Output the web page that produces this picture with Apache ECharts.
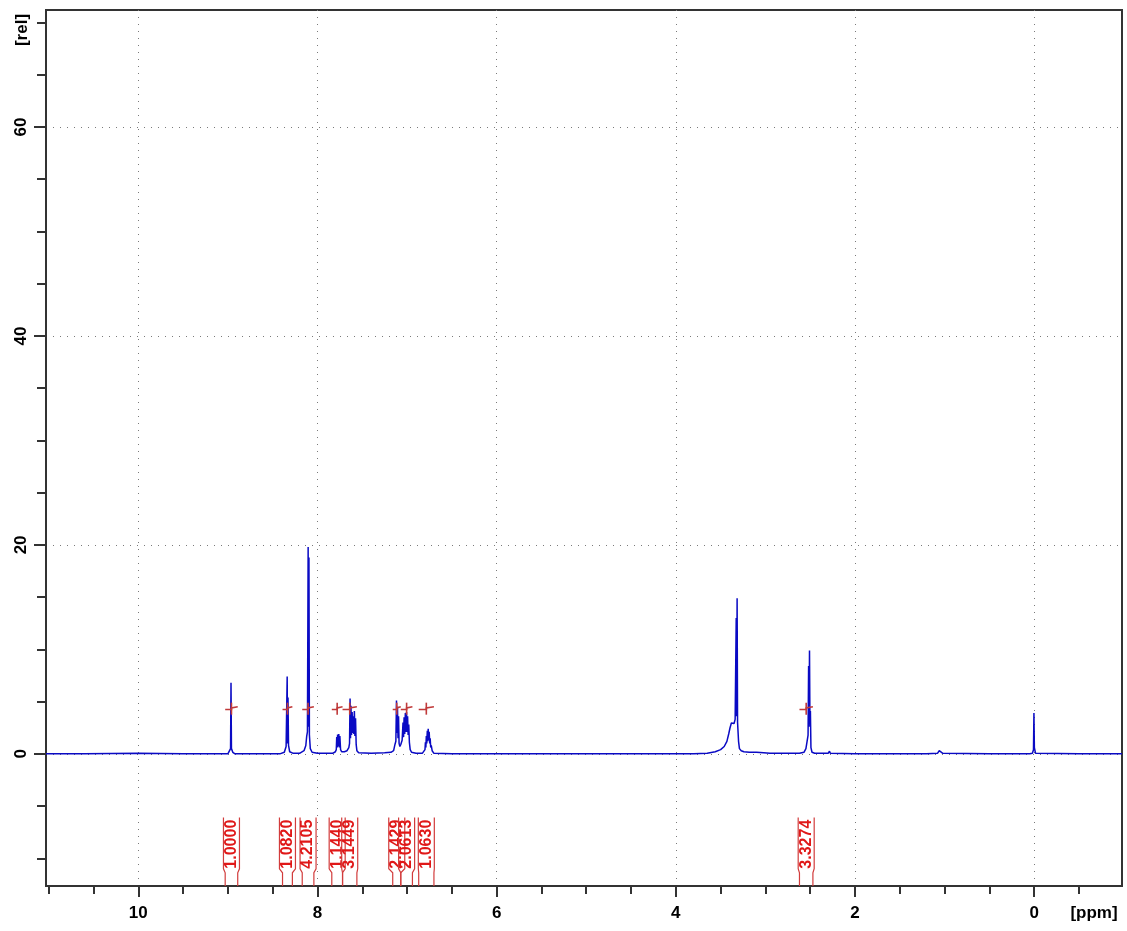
<!DOCTYPE html>
<html>
<head>
<meta charset="utf-8">
<script src="https://cdn.jsdelivr.net/npm/echarts@6.0.0/dist/echarts.min.js"></script>
<style>
html,body{margin:0;padding:0;background:#fff;}
#chart{width:1127px;height:931px;}
</style>
</head>
<body>
<div id="chart"></div>
<script>
// ---------- data (ppm, relative intensity) ----------
const baselineHigh = [[11.03,0],[10.6,0],[10.0,0.05],[9.5,0],[9.1,0]];
const sig896 = [[9.00,0],[8.98,0.15],[8.97,0.5],[8.965,6.8],[8.96,0.5],[8.945,0.15],[8.92,0]];
const sig833 = [[8.42,0],[8.37,0.15],[8.35,0.7],[8.338,7.4],[8.334,1.0],[8.329,5.4],[8.323,0.8],[8.31,0.2],[8.27,0.05]];
const sig810 = [[8.20,0.05],[8.15,0.3],[8.13,0.8],[8.12,1.7],[8.112,2.1],[8.104,19.8],[8.100,2.6],[8.095,18.8],[8.09,1.8],[8.08,0.5],[8.06,0.15],[8.00,0.05],[7.90,0.05],[7.83,0.05]];
const sig776 = [[7.80,0.2],[7.79,0.4],[7.785,1.6],[7.78,0.6],[7.775,1.85],[7.768,0.7],[7.762,1.9],[7.756,0.6],[7.75,1.7],[7.742,0.4],[7.73,0.2],[7.70,0.2]];
const sig760 = [[7.67,0.3],[7.65,0.6],[7.642,1.0],[7.636,5.3],[7.631,1.5],[7.626,4.6],[7.62,1.8],[7.613,4.0],[7.607,2.0],[7.600,3.6],[7.594,1.9],[7.588,4.1],[7.582,1.7],[7.575,3.4],[7.568,0.9],[7.56,0.3],[7.54,0.1],[7.40,0.05],[7.25,0.1],[7.18,0.15]];
const sig711 = [[7.15,0.3],[7.135,0.9],[7.125,1.2],[7.118,5.1],[7.113,2.0],[7.107,4.5],[7.101,1.5],[7.095,3.6],[7.089,1.0],[7.08,0.7]];
const sig699 = [[7.07,0.9],[7.055,1.3],[7.045,3.0],[7.039,1.6],[7.033,3.5],[7.026,1.9],[7.019,3.9],[7.013,2.1],[7.006,4.0],[7.0,2.1],[6.994,3.6],[6.988,1.8],[6.981,2.8],[6.974,1.1],[6.965,0.4],[6.95,0.15],[6.90,0.05],[6.83,0.05]];
const sig676 = [[6.81,0.1],[6.80,0.4],[6.795,1.1],[6.79,0.6],[6.785,1.7],[6.78,1.0],[6.774,2.2],[6.769,1.2],[6.764,2.4],[6.758,1.3],[6.753,2.1],[6.747,1.0],[6.742,1.5],[6.736,0.6],[6.73,0.8],[6.72,0.3],[6.70,0.05]];
const baselineMid = [[6.5,0],[5.5,0],[4.5,0],[3.8,0],[3.65,0.05]];
const sig333 = [[3.62,0.1],[3.56,0.2],[3.50,0.4],[3.46,0.7],[3.43,1.2],[3.41,1.9],[3.395,2.5],[3.38,2.95],[3.37,3.0],[3.36,2.8],[3.35,2.9],[3.338,3.3],[3.326,13.0],[3.321,3.6],[3.316,14.9],[3.311,3.0],[3.30,1.2],[3.29,0.5],[3.27,0.3],[3.24,0.2],[3.18,0.15],[3.10,0.15],[3.02,0.1],[2.95,0.05]];
const sig250 = [[2.62,0.05],[2.57,0.15],[2.548,0.5],[2.535,1.2],[2.524,1.8],[2.518,8.4],[2.513,2.6],[2.508,9.9],[2.503,3.0],[2.498,4.1],[2.492,0.6],[2.48,0.15],[2.45,0.05],[2.30,0.05],[2.285,0.25],[2.275,0.05]];
const sig105 = [[2.0,0],[1.2,0],[1.08,0.05],[1.06,0.3],[1.05,0.15],[1.04,0.3],[1.02,0.05],[0.5,0],[0.05,0]];
const sig000 = [[0.02,0.05],[0.008,0.4],[0.003,3.9],[-0.002,0.6],[-0.015,0.05],[-0.5,0],[-0.98,0]];

const integralValues = ['1.0000','1.0820','4.2105','1.1440','3.1449','2.1429','2.0613','1.0630','3.3274'];
const integralFrom   = [9.03, 8.39, 8.17, 7.84, 7.72, 7.16, 7.07, 6.87, 2.62];
const integralTo     = [8.89, 8.28, 8.04, 7.72, 7.56, 7.07, 6.94, 6.70, 2.47];
const integralLevel  = 4.3;   // height of the integral traces

const xTicks = [10, 8, 6, 4, 2, 0];
const yTicks = [0, 20, 40, 60];
const xMinorTicks = [11, 10.5, 9.5, 9, 8.5, 7.5, 7, 6.5, 5.5, 5, 4.5, 3.5, 3, 2.5, 1.5, 1, 0.5, -0.5];
const yMinorTicks = [-10, -5, 5, 10, 15, 25, 30, 35, 45, 50, 55, 65, 70];

const spectrum = [].concat(baselineHigh, sig896, sig833, sig810, sig776, sig760,
  sig711, sig699, sig676, baselineMid, sig333, sig250, sig105, sig000);

const X_MIN = -0.98, X_MAX = 11.03, Y_MIN = -12.65, Y_MAX = 71.2;

const chart = echarts.init(document.getElementById('chart'), null, {renderer: 'canvas'});

const integralData = integralValues.map((v, i) => [integralFrom[i], integralTo[i], i]);
const FONT = '"Liberation Sans", Arial, sans-serif';
const axisColor = '#333';

function axisCommon(extra) {
  return Object.assign({
    axisLine: {onZero: false, lineStyle: {color: axisColor, width: 2}},
  }, extra);
}

chart.setOption({
  animation: false,
  backgroundColor: '#ffffff',
  grid: {left: 46, right: 5, top: 10, bottom: 45, show: true, borderColor: axisColor, borderWidth: 2, backgroundColor: 'transparent'},
  xAxis: [
    axisCommon({
      type: 'value', inverse: true, min: X_MIN, max: X_MAX, splitNumber: 6,
      axisTick: {show: true, inside: false, length: 11, customValues: xTicks, lineStyle: {color: axisColor, width: 2}},
      axisLabel: {color: '#000', fontFamily: FONT, fontWeight: 'bold', fontSize: 17, margin: 19, customValues: xTicks},
      splitLine: {show: true, lineStyle: {color: '#7a7a7a', width: 1, type: [1, 6]}}
    }),
    axisCommon({
      type: 'value', inverse: true, min: X_MIN, max: X_MAX, position: 'bottom', offset: 0,
      axisTick: {show: true, inside: false, length: 8, customValues: xMinorTicks, lineStyle: {color: axisColor, width: 2}},
      axisLabel: {show: false},
      splitLine: {show: false}
    })
  ],
  yAxis: [
    axisCommon({
      type: 'value', min: Y_MIN, max: Y_MAX, splitNumber: 4,
      axisTick: {show: true, inside: false, length: 12, customValues: yTicks, lineStyle: {color: axisColor, width: 2}},
      axisLabel: {color: '#000', fontFamily: FONT, fontWeight: 'bold', fontSize: 17, rotate: 90, margin: 16, customValues: yTicks},
      splitLine: {show: true, lineStyle: {color: '#7a7a7a', width: 1, type: [1, 6]}}
    }),
    axisCommon({
      type: 'value', min: Y_MIN, max: Y_MAX, position: 'left', offset: 0,
      axisTick: {show: true, inside: false, length: 9, customValues: yMinorTicks, lineStyle: {color: axisColor, width: 2}},
      axisLabel: {show: false},
      splitLine: {show: false}
    })
  ],
  graphic: [
    {type: 'text', x: 22, y: 30, rotation: Math.PI / 2,
      style: {text: '[rel]', font: 'bold 17px ' + FONT, fill: '#000', align: 'center', verticalAlign: 'middle'}},
    {type: 'text', x: 1094, y: 913,
      style: {text: '[ppm]', font: 'bold 17px ' + FONT, fill: '#000', align: 'center', verticalAlign: 'middle'}}
  ],
  series: [
    {
      type: 'line', data: spectrum, showSymbol: false, clip: true, z: 3,
      lineStyle: {color: '#0a0ac4', width: 1.5}
    },
    {
      // integral traces
      type: 'custom', z: 4, clip: true, data: integralData,
      renderItem: (params, api) => {
        const a = api.value(0), b = api.value(1), m = (a + b) / 2;
        const L = integralLevel;
        const stroke = '#c03a3a';
        return {type: 'group', children: [
          {type: 'polyline', shape: {points: [api.coord([a, L - 0.05]), api.coord([m, L - 0.05]), api.coord([m, L + 0.1]), api.coord([b, L + 0.2])]},
            style: {stroke: stroke, lineWidth: 1.6, fill: null}},
          {type: 'polyline', shape: {points: [api.coord([m, L - 0.55]), api.coord([m, L + 0.6])]},
            style: {stroke: stroke, lineWidth: 1.6, fill: null}}
        ]};
      }
    },
    {
      // integral value labels under the spectrum
      type: 'custom', z: 5, clip: false, data: integralData,
      renderItem: (params, api) => {
        const a = api.value(0), b = api.value(1), i = api.value(2);
        const xa = api.coord([a, 0])[0], xb = api.coord([b, 0])[0];
        const cx = (xa + xb) / 2;
        const yTop = api.coord([0, -6.1])[1];
        const yTaper = api.coord([0, -11.0])[1];
        const yBot = api.coord([0, Y_MIN])[1];
        const hw = 8;
        const stroke = '#d23c3c';
        return {type: 'group', children: [
          {type: 'polyline', shape: {points: [[cx - hw, yTop], [cx - hw, yTaper], [xa, yTaper + 4], [xa, yBot]]},
            style: {stroke: stroke, lineWidth: 1.2, fill: null}},
          {type: 'polyline', shape: {points: [[cx + hw, yTop], [cx + hw, yTaper], [xb, yTaper + 4], [xb, yBot]]},
            style: {stroke: stroke, lineWidth: 1.2, fill: null}},
          {type: 'text', x: cx, y: (yTop + yTaper) / 2 + 1, rotation: Math.PI / 2,
            style: {text: integralValues[i], font: 'bold 16px ' + FONT, fill: '#e01818',
              align: 'center', verticalAlign: 'middle'}}
        ]};
      }
    }
  ]
});
</script>
</body>
</html>
